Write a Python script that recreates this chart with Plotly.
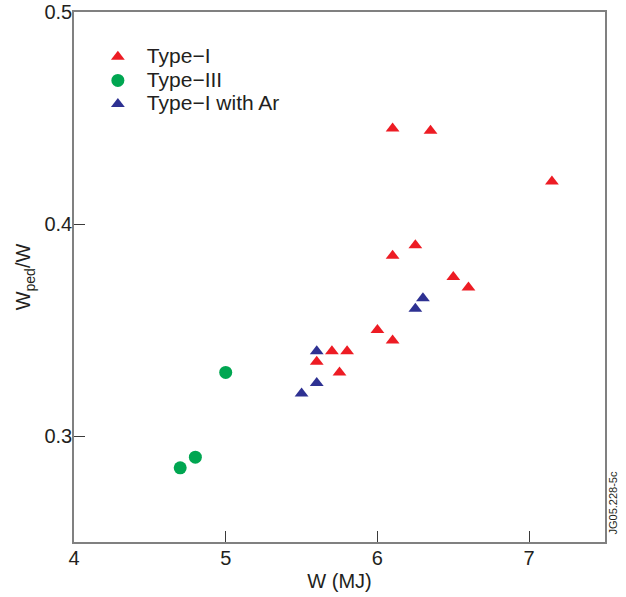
import plotly.graph_objects as go

# Data
type1_x = [6.1, 6.35, 7.15, 6.25, 6.1, 6.5, 6.6, 6.0, 6.1, 5.7, 5.8, 5.6, 5.75]
type1_y = [0.445, 0.444, 0.42, 0.39, 0.385, 0.375, 0.37, 0.35, 0.345, 0.34, 0.34, 0.335, 0.33]

type3_x = [5.0, 4.8, 4.7]
type3_y = [0.33, 0.29, 0.285]

ar_x = [5.6, 5.6, 5.5, 6.25, 6.3]
ar_y = [0.34, 0.325, 0.32, 0.36, 0.365]

series_names = ["Type\u2212I", "Type\u2212III", "Type\u2212I with Ar"]

x_ticks = [4, 5, 6, 7]
y_ticks = [0.3, 0.4, 0.5]

FONT = "Liberation Sans, Arial, sans-serif"
AXIS_COLOR = "#808080"


def legend_label(name):
    return '<span style="font-size:21px">' + name + '</span>'


fig = go.Figure()
fig.add_trace(go.Scatter(x=type1_x, y=type1_y, mode="markers", name=legend_label(series_names[0]),
                         marker=dict(symbol="triangle-up", size=12, color="#ED1C24")))
fig.add_trace(go.Scatter(x=type3_x, y=type3_y, mode="markers", name=legend_label(series_names[1]),
                         marker=dict(symbol="circle", size=13, color="#00A651")))
fig.add_trace(go.Scatter(x=ar_x, y=ar_y, mode="markers", name=legend_label(series_names[2]),
                         marker=dict(symbol="triangle-up", size=12, color="#2E3192")))

fig.update_layout(
    width=626, height=597,
    margin=dict(l=74, r=21, t=12, b=55, autoexpand=False),
    paper_bgcolor="white", plot_bgcolor="white",
    font=dict(family=FONT, size=20, color="#231F20"),
    showlegend=True,
    legend=dict(x=0.028, y=0.947, xanchor="left", yanchor="top",
                bgcolor="rgba(0,0,0,0)", font=dict(size=15.8),
                itemwidth=48, tracegroupgap=0),
    xaxis=dict(range=[4, 7.5], tickvals=x_ticks, ticktext=[str(v) for v in x_ticks],
               ticks="inside", ticklen=11, tickwidth=1, tickcolor="#3a3a3a",
               ticklabelstandoff=-3,
               showline=True, linecolor=AXIS_COLOR, linewidth=1.6, mirror=True,
               showgrid=False, zeroline=False, automargin=False,
               title=dict(text="W (MJ)", font=dict(size=20), standoff=6)),
    yaxis=dict(range=[0.25, 0.5], tickvals=y_ticks, ticktext=["0.3", "0.4", "0.5"],
               ticks="inside", ticklen=11, tickwidth=1, tickcolor="#3a3a3a",
               ticklabelstandoff=-4,
               showline=True, linecolor=AXIS_COLOR, linewidth=1.6, mirror=True,
               showgrid=False, zeroline=False, automargin=False,
               title=dict(text="W<sub>ped</sub>/W", font=dict(size=20), standoff=8)),
    annotations=[dict(text="JG05.228-5c", x=1.0, y=0.0, xref="paper", yref="paper",
                      xanchor="left", yanchor="bottom", xshift=-1, yshift=5, textangle=-90,
                      showarrow=False, font=dict(size=11, color="#231F20"))],
)

fig.write_html("out.html", config={"displayModeBar": False},
               post_script="document.body.style.margin='0';")
